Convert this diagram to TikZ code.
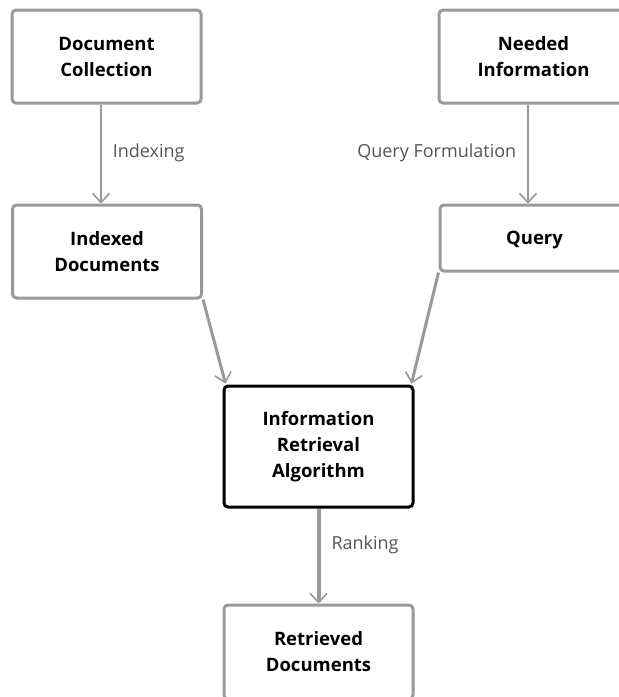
\documentclass[tikz,border=0pt]{standalone}
\usepackage{fontspec}
\setmainfont{Open Sans}
\usetikzlibrary{arrows.meta,calc}
\definecolor{edgegray}{HTML}{999999}
\definecolor{labelgray}{HTML}{555555}
\tikzset{
  box/.style={draw=edgegray, line width=3pt, rounded corners=4pt, fill=white,
    minimum width=189pt, align=center, text=black,
    font=\fontsize{18.5}{26}\selectfont\bfseries, inner sep=0pt},
  mainbox/.style={box, draw=black},
  conn/.style={draw=edgegray, -{Straight Barb[length=9pt,width=17pt,line width=1.6pt]}},
  lbl/.style={text=labelgray, font=\fontsize{18}{22}\selectfont, inner sep=0pt}
}
\begin{document}
\begin{tikzpicture}[x=1pt,y=-1pt]
\useasboundingbox (0,0) rectangle (619,697);
\clip (0,0) rectangle (619,697);
\fill[white] (0,0) rectangle (619,697);
\node[box, minimum height=93pt] (DC) at (106.5,56.5) {Document\\Collection};
\node[box, minimum height=93pt] (ND) at (533.5,56.5) {Needed\\Information};
\node[box, minimum height=93pt] (ID) at (107,251.5) {Indexed\\Documents};
\node[box, minimum height=66pt, text height=13pt, text depth=0pt] (Q) at (534.5,238) {Query};
\node[mainbox, minimum height=121pt] (IR) at (318.5,446.5) {Information\\Retrieval\\Algorithm};
\node[box, minimum height=94pt] (RD) at (318.5,652) {Retrieved\\Documents};
\draw[conn, line width=1.5pt] ($(DC.south)+(-5.5,0)$) -- node[lbl, anchor=west, xshift=11pt, yshift=1pt] (L1) {Indexing} ($(ID.north)+(-6,0)$);
\draw[conn, line width=1.5pt] ($(ND.south)+(-5.5,0)$) -- node[lbl, anchor=east, xshift=-11pt, yshift=1pt] (L2) {Query Formulation} ($(Q.north)+(-6.5,0)$);
\draw[conn, line width=3pt] (ID.south east) -- ($(IR.north west)+(3,-1)$);
\draw[conn, line width=3pt] (Q.south west) -- ($(IR.north east)+(-3,-1)$);
\draw[conn, line width=4pt] (IR.south) -- node[lbl, anchor=west, xshift=11pt, yshift=11pt] (L3) {Ranking} (RD.north);
\end{tikzpicture}
\end{document}
